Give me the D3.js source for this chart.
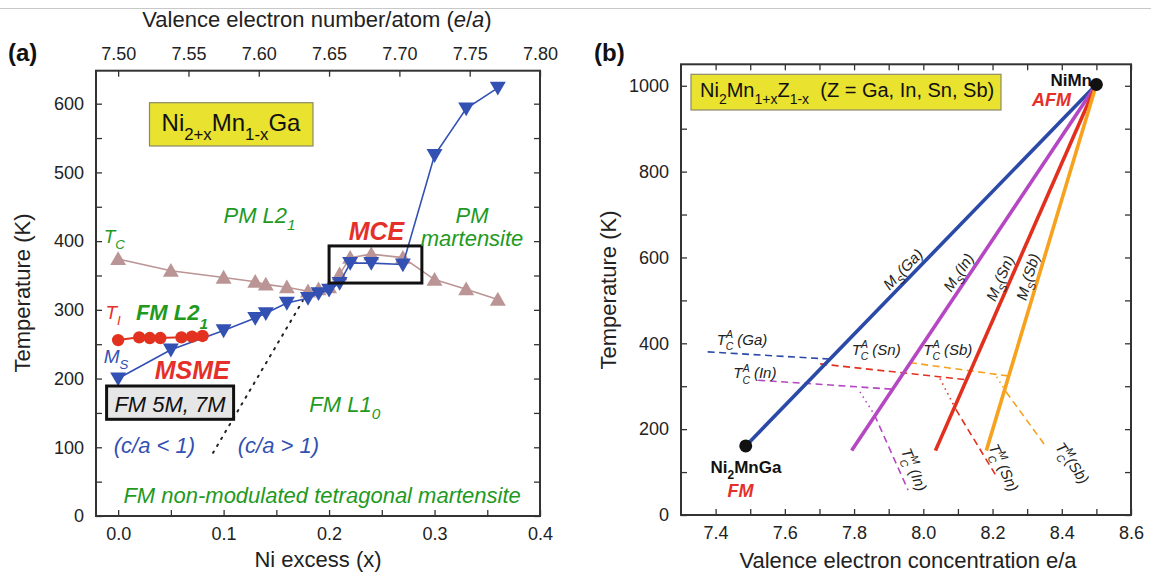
<!DOCTYPE html>
<html>
<head>
<meta charset="utf-8">
<script src="https://cdn.jsdelivr.net/npm/d3@7"></script>
<style>
body { margin: 0; background: #fff; }
svg text { font-family: "Liberation Sans", Arial, Helvetica, sans-serif; }
</style>
</head>
<body>
<div id="chart"></div>
<script>
// PANEL (a) DATA: Ni2+xMn1-xGa phase diagram
var niExcess = [0, 0.05, 0.10, 0.13, 0.14, 0.16, 0.18, 0.19, 0.20, 0.21, 0.22, 0.24, 0.27, 0.30, 0.33, 0.36];
var curieT = [374, 357, 347, 341, 337, 333, 327, 330, 333, 352, 376, 381, 376, 344, 330, 315];
var martensiteT = [200, 242, 270, 288, 295, 310, 317, 324, 329, 339, 368, 368, 366, 525, 593, 623];
var premartX = [0, 0.02, 0.03, 0.04, 0.06, 0.07, 0.08];
var premartT = [256, 260, 259, 259, 260, 261, 262];
var boundaryX = [0.09, 0.175];
var boundaryT = [92, 313];
var mceX = [0.2, 0.288];
var mceT = [339, 393];

// PANEL (b) DATA: Ni2Mn1+xZ1-x
var alloys = ["Ga", "In", "Sn", "Sb"];
var alloyColors = ["#2b4aa8", "#b548c2", "#e2301f", "#f7a21e"];
var msStartEa = [7.487, 7.793, 8.035, 8.182];
var msStartT = [161, 150, 150, 150];
var msLabelT = [556, 552, 542, 548];
var niMn = [8.5, 1003];
var ni2MnGa = [7.487, 161];
var tcaStartEa = [7.377, 7.523, 7.702, 7.961];
var tcaStartT = [380, 314, 352, 355];
var tcaEndEa = [7.735, 7.913, 8.127, 8.245];
var tcaEndT = [363, 293, 315, 324];
var tcmAlloys = ["In", "Sn", "Sb"];
var tcmColors = ["#b548c2", "#e2301f", "#f7a21e"];
var tcmEa = [[7.817, 7.859, 7.956], [8.048, 8.094, 8.212], [8.212, 8.239, 8.351]];
var tcmT = [[287, 233, 58], [318, 246, 89], [322, 287, 163]];

var svgWidth = 1151;
var svgHeight = 573;

var svg = d3.select("#chart")
    .append("svg")
    .attr("width", svgWidth)
    .attr("height", svgHeight);

// thin grey rule at the very top of the page
svg.append("line")
    .attr("x1", 0).attr("x2", svgWidth)
    .attr("y1", 8.5).attr("y2", 8.5)
    .attr("stroke", "#c8c8c8");

// helper: text with sub / superscripts, parts are strings or [text, "sub"|"sup"|"subsup", text2]
function richText(sel, parts, size) {
    var shift = 0;
    parts.forEach(function(p) {
        var txt = typeof p === "string" ? p : p[0];
        var kind = typeof p === "string" ? "" : p[1];
        if (kind === "subsup") {
            var sub = size * 0.35;
            sel.append("tspan").attr("dy", sub - shift).attr("font-size", size * 0.7).text(txt);
            var sup = -size * 0.45;
            sel.append("tspan").attr("dy", sup - sub).attr("dx", -size * 0.7 * 0.7)
                .attr("font-size", size * 0.7).text(p[2]);
            shift = sup;
            return;
        }
        var target = kind === "sub" ? size * (p[2] || 0.32) : kind === "sup" ? -size * 0.42 : 0;
        var ts = sel.append("tspan").attr("dy", target - shift).text(txt);
        if (kind) ts.attr("font-size", size * 0.7);
        shift = target;
    });
}

function label(x, y, parts, size, color, weight, style) {
    var t = svg.append("text")
        .attr("x", x).attr("y", y)
        .attr("font-size", size)
        .attr("fill", color)
        .attr("font-weight", weight || "normal")
        .attr("font-style", style || "normal");
    richText(t, parts, size);
    return t;
}

function styleAxis(g, size) {
    g.attr("font-size", size).attr("font-family", null);
    g.select(".domain").remove();
    g.selectAll(".tick line").attr("stroke", "#333").attr("stroke-width", 1.3);
    g.selectAll(".tick text").attr("fill", "#222");
}

//====================== PANEL (a) ======================
var frameA = {left: 96, right: 540, top: 70.7, bottom: 516};

var xA = d3.scaleLinear().domain([-0.021, 0.4]).range([frameA.left, frameA.right]);
var eaA = d3.scaleLinear().domain([7.5 - 0.75 * 0.021, 7.8]).range([frameA.left, frameA.right]);
var yA = d3.scaleLinear().domain([0, 648]).range([frameA.bottom, frameA.top]);

// AXES (ticks point inwards)
var gBottomA = svg.append("g")
    .attr("transform", `translate(0, ${frameA.bottom})`)
    .call(d3.axisBottom(xA)
        .tickValues(d3.range(0, 0.4001, 0.05))
        .tickSizeInner(-6).tickSizeOuter(0).tickPadding(11)
        .tickFormat(d => Math.round(d * 100) % 10 === 0 ? d3.format(".1f")(d) : ""));
styleAxis(gBottomA, 18);

var gTopA = svg.append("g")
    .attr("transform", `translate(0, ${frameA.top})`)
    .call(d3.axisTop(eaA)
        .tickValues(d3.range(7.5, 7.8001, 0.05))
        .tickSizeInner(-6).tickSizeOuter(0).tickPadding(11)
        .tickFormat(d3.format(".2f")));
styleAxis(gTopA, 18);

var gLeftA = svg.append("g")
    .attr("transform", `translate(${frameA.left}, 0)`)
    .call(d3.axisLeft(yA)
        .tickValues(d3.range(0, 601, 50))
        .tickSizeInner(-6).tickSizeOuter(0).tickPadding(12)
        .tickFormat(d => d % 100 === 0 ? d : ""));
styleAxis(gLeftA, 18);

var gRightA = svg.append("g")
    .attr("transform", `translate(${frameA.right}, 0)`)
    .call(d3.axisRight(yA)
        .tickValues(d3.range(0, 601, 50))
        .tickSizeInner(-6).tickSizeOuter(0)
        .tickFormat(""));
styleAxis(gRightA, 18);

svg.append("rect")
    .attr("x", frameA.left).attr("y", frameA.top)
    .attr("width", frameA.right - frameA.left)
    .attr("height", frameA.bottom - frameA.top)
    .attr("fill", "none").attr("stroke", "#333").attr("stroke-width", 2);

// yellow formula box
svg.append("rect")
    .attr("x", 149.5).attr("y", 102.7).attr("width", 163.5).attr("height", 43.3)
    .attr("fill", "#e9e22e").attr("stroke", "#8a8a6a").attr("stroke-width", 1.2);
label(231, 131, ["Ni", ["2+x", "sub", 0.38], "Mn", ["1-x", "sub", 0.38], "Ga"], 24, "#111")
    .attr("text-anchor", "middle");

// dotted boundary c/a < 1 | c/a > 1
var lineA = d3.line().x(d => xA(d[0])).y(d => yA(d[1]));
svg.append("path")
    .attr("d", lineA(d3.zip(boundaryX, boundaryT)))
    .attr("fill", "none").attr("stroke", "#222")
    .attr("stroke-width", 2).attr("stroke-dasharray", "1.5,6.5")
    .attr("stroke-linecap", "round");

// Tc curve
var tcColor = "#bb9595";
svg.append("path")
    .attr("d", lineA(d3.zip(niExcess, curieT)))
    .attr("fill", "none").attr("stroke", tcColor).attr("stroke-width", 1.6);
svg.selectAll(".tcmark")
    .data(d3.zip(niExcess, curieT))
    .enter()
    .append("path")
    .attr("class", "tcmark")
    .attr("d", d3.symbol().type(d3.symbolTriangle).size(110))
    .attr("transform", d => `translate(${xA(d[0])}, ${yA(d[1]) + 1.5})`)
    .attr("fill", tcColor);

// Ms curve
var msColor = "#3350b3";
svg.append("path")
    .attr("d", lineA(d3.zip(niExcess, martensiteT)))
    .attr("fill", "none").attr("stroke", msColor).attr("stroke-width", 1.6);
svg.selectAll(".msmark")
    .data(d3.zip(niExcess, martensiteT))
    .enter()
    .append("path")
    .attr("class", "msmark")
    .attr("d", d3.symbol().type(d3.symbolTriangle).size(110))
    .attr("transform", d => `translate(${xA(d[0])}, ${yA(d[1]) - 1.5}) rotate(180)`)
    .attr("fill", msColor);

// TI curve
var tiColor = "#e2321f";
svg.append("path")
    .attr("d", lineA(d3.zip(premartX, premartT)))
    .attr("fill", "none").attr("stroke", tiColor).attr("stroke-width", 2);
svg.selectAll(".timark")
    .data(d3.zip(premartX, premartT))
    .enter()
    .append("circle")
    .attr("class", "timark")
    .attr("cx", d => xA(d[0]))
    .attr("cy", d => yA(d[1]))
    .attr("r", 6.2)
    .attr("fill", tiColor);

// MCE box
svg.append("rect")
    .attr("x", xA(mceX[0])).attr("y", yA(mceT[1]))
    .attr("width", xA(mceX[1]) - xA(mceX[0]))
    .attr("height", yA(mceT[0]) - yA(mceT[1]))
    .attr("fill", "none").attr("stroke", "#111").attr("stroke-width", 3);

// FM 5M, 7M box
svg.append("rect")
    .attr("x", 106.6).attr("y", 386).attr("width", 127).attr("height", 33.3)
    .attr("fill", "#e6e6e6").attr("stroke", "#111").attr("stroke-width", 3);
label(170, 411.5, ["FM 5M, 7M"], 22, "#111", "normal", "italic").attr("text-anchor", "middle");

// phase labels
var green = "#1f9a1f";
var red = "#e5302a";
var blue = "#3350b3";
label(223.5, 222.7, ["PM L2", ["1", "sub"]], 22, green, "normal", "italic");
label(103.7, 243.3, ["T", ["C", "sub"]], 19, green, "normal", "italic");
label(348.7, 240, ["MCE"], 25, red, "bold", "italic");
label(472, 222.7, ["PM"], 22, green, "normal", "italic").attr("text-anchor", "middle");
label(472, 246, ["martensite"], 22, green, "normal", "italic").attr("text-anchor", "middle");
label(105.5, 319.3, ["T", ["I", "sub"]], 19, red, "normal", "italic");
label(135.9, 320, ["FM L2", ["1", "sub", 0.4]], 22, green, "bold", "italic");
label(103.7, 363.3, ["M", ["S", "sub"]], 19, blue, "normal", "italic");
label(154.8, 379.3, ["MSME"], 25, red, "bold", "italic");
label(309.3, 411.7, ["FM L1", ["0", "sub"]], 22, green, "normal", "italic");
label(113.7, 452.7, ["(c/a < 1)"], 22, blue, "normal", "italic");
label(237.8, 452.7, ["(c/a > 1)"], 22, blue, "normal", "italic");
label(123.4, 502.7, ["FM non-modulated tetragonal martensite"], 22, green, "normal", "italic");

// axis titles and panel letter
label(318, 567, ["Ni excess (x)"], 22, "#222").attr("text-anchor", "middle");
var topTitle = svg.append("text")
    .attr("x", 317).attr("y", 27)
    .attr("font-size", 22).attr("fill", "#222")
    .attr("text-anchor", "middle");
topTitle.append("tspan").text("Valence electron number/atom (");
topTitle.append("tspan").attr("font-style", "italic").text("e");
topTitle.append("tspan").text("/");
topTitle.append("tspan").attr("font-style", "italic").text("a");
topTitle.append("tspan").text(")");
svg.append("text")
    .attr("transform", "translate(22, 293) rotate(-90)")
    .attr("text-anchor", "middle").attr("dy", "0.35em")
    .attr("font-size", 22).attr("fill", "#222")
    .text("Temperature (K)");
label(8, 61, ["(a)"], 24, "#111", "bold");

//====================== PANEL (b) ======================
var frameB = {left: 681, right: 1131, top: 64.3, bottom: 515};

var xB = d3.scaleLinear().domain([7.3, 8.6]).range([frameB.left, frameB.right]);
var yB = d3.scaleLinear().domain([0, 1050]).range([frameB.bottom, frameB.top]);
var eaTicks = d3.range(7.4, 8.6001, 0.1).map(d => +d.toFixed(1));

var gBottomB = svg.append("g")
    .attr("transform", `translate(0, ${frameB.bottom})`)
    .call(d3.axisBottom(xB)
        .tickValues(eaTicks)
        .tickSizeInner(-6).tickSizeOuter(0).tickPadding(11)
        .tickFormat(d => Math.round(d * 10) % 2 === 0 ? d3.format(".1f")(d) : ""));
styleAxis(gBottomB, 18);

var gTopB = svg.append("g")
    .attr("transform", `translate(0, ${frameB.top})`)
    .call(d3.axisTop(xB)
        .tickValues(eaTicks)
        .tickSizeInner(-6).tickSizeOuter(0)
        .tickFormat(""));
styleAxis(gTopB, 18);

var gLeftB = svg.append("g")
    .attr("transform", `translate(${frameB.left}, 0)`)
    .call(d3.axisLeft(yB)
        .tickValues(d3.range(0, 1001, 100))
        .tickSizeInner(-6).tickSizeOuter(0).tickPadding(12)
        .tickFormat(d => d % 200 === 0 ? d : ""));
styleAxis(gLeftB, 18);

var gRightB = svg.append("g")
    .attr("transform", `translate(${frameB.right}, 0)`)
    .call(d3.axisRight(yB)
        .tickValues(d3.range(0, 1001, 100))
        .tickSizeInner(-6).tickSizeOuter(0)
        .tickFormat(""));
styleAxis(gRightB, 18);

svg.append("rect")
    .attr("x", frameB.left).attr("y", frameB.top)
    .attr("width", frameB.right - frameB.left)
    .attr("height", frameB.bottom - frameB.top)
    .attr("fill", "none").attr("stroke", "#333").attr("stroke-width", 2);

var lineB = d3.line().x(d => xB(d[0])).y(d => yB(d[1]));

// Tc of austenite (dashed)
alloys.forEach(function(a, i) {
    svg.append("path")
        .attr("d", lineB([[tcaStartEa[i], tcaStartT[i]], [tcaEndEa[i], tcaEndT[i]]]))
        .attr("fill", "none").attr("stroke", alloyColors[i])
        .attr("stroke-width", 1.6).attr("stroke-dasharray", "7,4.5");
});

// Tc of martensite (dotted above Ms, dashed below)
tcmAlloys.forEach(function(a, i) {
    var pts = d3.zip(tcmEa[i], tcmT[i]);
    svg.append("path")
        .attr("d", lineB(pts.slice(0, 2)))
        .attr("fill", "none").attr("stroke", tcmColors[i])
        .attr("stroke-width", 1.6).attr("stroke-dasharray", "1.5,4");
    svg.append("path")
        .attr("d", lineB(pts.slice(1)))
        .attr("fill", "none").attr("stroke", tcmColors[i])
        .attr("stroke-width", 1.6).attr("stroke-dasharray", "7,4.5");
});

// Ms lines converging at NiMn
alloys.forEach(function(a, i) {
    svg.append("path")
        .attr("d", lineB([[msStartEa[i], msStartT[i]], niMn]))
        .attr("fill", "none").attr("stroke", alloyColors[i])
        .attr("stroke-width", 3.6);
});

// end points
svg.selectAll(".endpt")
    .data([ni2MnGa, niMn])
    .enter()
    .append("circle")
    .attr("class", "endpt")
    .attr("cx", d => xB(d[0]))
    .attr("cy", d => yB(d[1]))
    .attr("r", 6.5)
    .attr("fill", "#111");

// Ms labels along each line
alloys.forEach(function(a, i) {
    var x0 = xB(msStartEa[i]), y0 = yB(msStartT[i]);
    var x1 = xB(niMn[0]), y1 = yB(niMn[1]);
    var f = (msLabelT[i] - msStartT[i]) / (niMn[1] - msStartT[i]);
    var px = x0 + f * (x1 - x0), py = y0 + f * (y1 - y0);
    var ang = Math.atan2(y1 - y0, x1 - x0) * 180 / Math.PI;
    var t = svg.append("text")
        .attr("transform", `translate(${px}, ${py}) rotate(${ang})`)
        .attr("y", -5)
        .attr("text-anchor", "middle")
        .attr("font-size", 15).attr("font-style", "italic").attr("fill", "#222");
    richText(t, ["M", ["S", "sub"], "(" + a + ")"], 15);
});

// Tc^A labels
var tcaLabelX = [716.7, 733.3, 851.7, 923.3];
var tcaLabelY = [345, 378.3, 355, 355];
alloys.forEach(function(a, i) {
    label(tcaLabelX[i], tcaLabelY[i], ["T", ["C", "subsup", "A"], " (" + a + ")"], 15, "#222", "normal", "italic");
});

// Tc^M labels (rotated)
var tcmLabelEa = [7.959, 8.2185, 8.418];
var tcmLabelT = [101, 105, 114];
var tcmLabelAngle = [68, 65, 55];
tcmAlloys.forEach(function(a, i) {
    var t = svg.append("text")
        .attr("transform", `translate(${xB(tcmLabelEa[i])}, ${yB(tcmLabelT[i])}) rotate(${tcmLabelAngle[i]})`)
        .attr("dy", "0.35em")
        .attr("text-anchor", "middle")
        .attr("font-size", 15).attr("font-style", "italic").attr("fill", "#222");
    richText(t, ["T", ["C", "subsup", "M"], (i === 2 ? "(" : " (") + a + ")"], 15);
});

// compound labels
label(710.5, 473.3, ["Ni", ["2", "sub", 0.34], "MnGa"], 17, "#111", "bold");
label(727.6, 496.5, ["FM"], 18, red, "bold", "italic");
label(1092, 86, ["NiMn"], 17, "#111", "bold").attr("text-anchor", "end");
label(1032, 106, ["AFM"], 18, red, "bold", "italic");

// yellow formula box
svg.append("rect")
    .attr("x", 691).attr("y", 74.3).attr("width", 310).attr("height", 35.7)
    .attr("fill", "#e9e22e").attr("stroke", "#8a8a6a").attr("stroke-width", 1.2);
label(700, 96.7, ["Ni", ["2", "sub", 0.38], "Mn", ["1+x", "sub", 0.38], "Z", ["1-x", "sub", 0.38], "\u00a0\u00a0(Z = Ga, In, Sn, Sb)"], 20, "#111");

// axis titles and panel letter
label(908, 568, ["Valence electron concentration e/a"], 22, "#222").attr("text-anchor", "middle");
svg.append("text")
    .attr("transform", "translate(608, 290) rotate(-90)")
    .attr("text-anchor", "middle").attr("dy", "0.35em")
    .attr("font-size", 22).attr("fill", "#222")
    .text("Temperature (K)");
label(594, 61, ["(b)"], 24, "#111", "bold");
</script>
</body>
</html>
